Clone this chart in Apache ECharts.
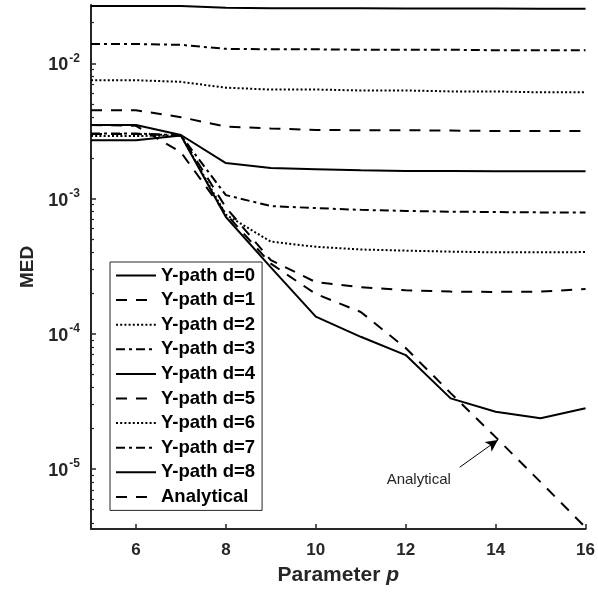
<!DOCTYPE html>
<html>
<head>
<meta charset="utf-8">
<script src="https://cdn.jsdelivr.net/npm/echarts@6/dist/echarts.min.js"></script>
<style>
  html, body { margin: 0; padding: 0; background: #fff; }
  #chart { width: 598px; height: 596px; }
</style>
</head>
<body>
<div id="chart"></div>
<script>
// Parameter p on the horizontal axis
const pValues = [5, 6, 7, 8, 9, 10, 11, 12, 13, 14, 15, 16];

// MED for each Y-path depth d
const medD0 = [0.0027, 0.0027, 0.00293, 7.3e-4, 3.1e-4, 1.34e-4, 9.5e-5, 6.96e-5, 3.33e-5, 2.65e-5, 2.37e-5, 2.81e-5];
const medD1 = [0.0030, 0.0030, 0.00293, 8.6e-4, 3.5e-4, 2.41e-4, 2.21e-4, 2.1e-4, 2.05e-4, 2.04e-4, 2.05e-4, 2.14e-4];
const medD2 = [0.0029, 0.0029, 0.00293, 7.6e-4, 4.8e-4, 4.4e-4, 4.2e-4, 4.12e-4, 4.05e-4, 4.0e-4, 4.0e-4, 4.02e-4];
const medD3 = [0.00303, 0.00303, 0.00293, 1.06e-3, 8.8e-4, 8.5e-4, 8.25e-4, 8.1e-4, 8.0e-4, 7.95e-4, 7.9e-4, 7.9e-4];
const medD4 = [0.0035, 0.0035, 0.00295, 1.83e-3, 1.68e-3, 1.65e-3, 1.62e-3, 1.6e-3, 1.6e-3, 1.59e-3, 1.59e-3, 1.59e-3];
const medD5 = [0.0045, 0.0045, 0.0040, 0.0034, 0.0033, 0.00322, 0.0032, 0.0032, 0.00318, 0.00316, 0.00316, 0.00316];
const medD6 = [0.0075, 0.0075, 0.0073, 0.0066, 0.0064, 0.0064, 0.0063, 0.0063, 0.0062, 0.0062, 0.0061, 0.0061];
const medD7 = [0.0139, 0.0139, 0.0137, 0.0128, 0.0127, 0.0127, 0.0126, 0.0126, 0.0126, 0.0125, 0.0125, 0.0125];
const medD8 = [0.0266, 0.0266, 0.0265, 0.0258, 0.0256, 0.0255, 0.0255, 0.0254, 0.0254, 0.0254, 0.0253, 0.0253];
const medAnalytical = [0.0035, 0.00345, 0.0022, 7.7e-4, 3.3e-4, 1.97e-4, 1.45e-4, 7.84e-5, 3.64e-5, 1.72e-5, 8.0e-6, 3.7e-6];

const seriesNames = ['Y-path d=0', 'Y-path d=1', 'Y-path d=2', 'Y-path d=3', 'Y-path d=4',
                     'Y-path d=5', 'Y-path d=6', 'Y-path d=7', 'Y-path d=8', 'Analytical'];
const seriesValues = [medD0, medD1, medD2, medD3, medD4, medD5, medD6, medD7, medD8, medAnalytical];

// Axis ticks
const xTickValues = [6, 8, 10, 12, 14, 16];
const yMajorTicks = [1e-5, 1e-4, 1e-3, 1e-2];
const yMinorTicks = [];
[-6, -5, -4, -3, -2].forEach(function (e) {
  for (let k = 2; k <= 9; k++) yMinorTicks.push(k * Math.pow(10, e));
});

// Annotation
const noteText = 'Analytical';

const FONT = "'Liberation Sans', Arial, Helvetica, sans-serif";
const INK = '#262626';
const Y_MIN = 3.6e-6, Y_MAX = 0.027;

// Line patterns cycle: solid, dashed, dotted, dash-dot
const dashCycle = ['solid', [11, 9], [2, 2.2], [9, 4, 3, 4]];

function pairs(vals) {
  return pValues.map(function (p, i) { return [p, vals[i]]; });
}

const series = seriesNames.map(function (name, i) {
  const s = {
    name: name,
    type: 'line',
    data: pairs(seriesValues[i]),
    showSymbol: false,
    symbol: 'none',
    animation: false,
    lineStyle: { color: '#000', width: 2, type: dashCycle[i % 4] },
    itemStyle: { color: '#000' },
    z: 3
  };
  if (name === 'Analytical') {
    s.markLine = {
      silent: true,
      animation: false,
      symbol: ['none', 'arrow'],
      symbolSize: [9, 12],
      label: { show: false },
      lineStyle: { color: '#000', width: 1, type: 'solid' },
      data: [[{ coord: [13.2, 1.03e-5] }, { coord: [14.05, 1.64e-5] }]]
    };
    s.markPoint = {
      silent: true,
      animation: false,
      symbol: 'circle',
      symbolSize: 0,
      label: {
        show: true, position: 'inside', formatter: noteText,
        fontFamily: FONT, fontSize: 15, color: INK
      },
      data: [{ coord: [12.29, 8.3e-6] }]
    };
  }
  return s;
});

const chart = echarts.init(document.getElementById('chart'), null, { renderer: 'canvas' });
chart.setOption({
  backgroundColor: '#fff',
  animation: false,
  grid: { left: 91, right: 8, top: 5, bottom: 67, containLabel: false },
  legend: {
    data: seriesNames,
    orient: 'vertical',
    left: 110,
    top: 262,
    itemWidth: 40,
    itemHeight: 14,
    itemGap: 5.6,
    padding: [4, 7, 4, 5],
    selectedMode: false,
    backgroundColor: '#fff',
    borderColor: INK,
    borderWidth: 1,
    itemStyle: { color: 'rgba(0,0,0,0)', borderWidth: 0, opacity: 0 },
    textStyle: { fontFamily: FONT, fontSize: 18.5, fontWeight: 'bold', color: '#000' }
  },
  xAxis: {
    type: 'value',
    min: 5,
    max: 16,
    interval: 1,
    name: 'Parameter {i|p}',
    nameLocation: 'middle',
    nameGap: 36,
    nameTextStyle: {
      fontFamily: FONT, fontSize: 21, fontWeight: 'bold', color: INK,
      rich: { i: { fontFamily: FONT, fontSize: 21, fontWeight: 'bold', fontStyle: 'italic', color: INK } }
    },
    axisLine: { show: true, onZero: false, lineStyle: { color: INK, width: 2 } },
    axisTick: { show: true, inside: true, length: 5, customValues: xTickValues, lineStyle: { color: INK, width: 1.5 } },
    axisLabel: {
      customValues: xTickValues, margin: 13,
      fontFamily: FONT, fontSize: 17, fontWeight: 'bold', color: INK
    },
    splitLine: { show: false }
  },
  yAxis: [{
    type: 'log',
    logBase: 10,
    min: Y_MIN,
    max: Y_MAX,
    name: 'MED',
    nameLocation: 'middle',
    nameRotate: 90,
    nameGap: 52,
    nameTextStyle: { fontFamily: FONT, fontSize: 19, fontWeight: 'bold', color: INK },
    axisLine: { show: true, lineStyle: { color: INK, width: 2 } },
    axisTick: { show: true, inside: true, length: 5, customValues: yMajorTicks, lineStyle: { color: INK, width: 1.5 } },
    axisLabel: {
      customValues: yMajorTicks,
      margin: 11,
      formatter: function (v) {
        const e = Math.round(Math.log10(v));
        if (Math.abs(Math.log10(v) - e) > 1e-6) return '';
        return '{b|10}{s|' + e + '}';
      },
      rich: {
        b: { fontFamily: FONT, fontSize: 18, fontWeight: 'bold', color: INK, verticalAlign: 'bottom', lineHeight: 22 },
        s: { fontFamily: FONT, fontSize: 12, fontWeight: 'bold', color: INK, verticalAlign: 'top', lineHeight: 22, padding: [0, 0, 0, 1] }
      }
    },
    splitLine: { show: false }
  }, {
    type: 'log',
    logBase: 10,
    min: Y_MIN,
    max: Y_MAX,
    position: 'left',
    axisLine: { show: false },
    axisTick: { show: true, inside: true, length: 3, customValues: yMinorTicks, lineStyle: { color: INK, width: 1.2 } },
    axisLabel: { show: false },
    splitLine: { show: false }
  }],
  series: series
});
</script>
</body>
</html>
